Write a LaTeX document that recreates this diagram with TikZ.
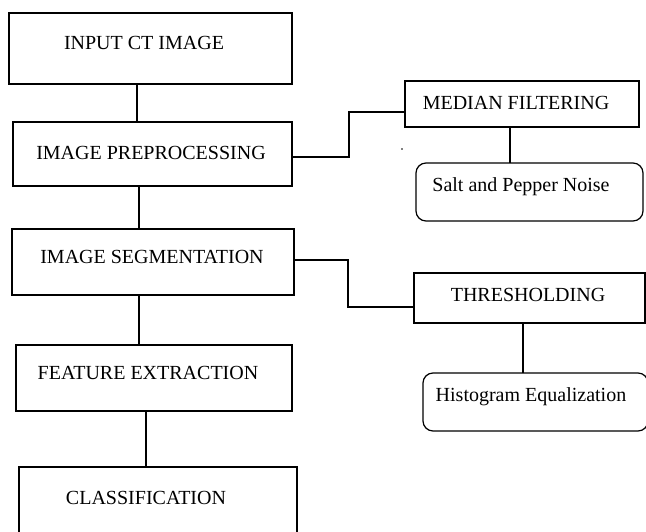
\documentclass[tikz,border=0pt]{standalone}
\usepackage{fontspec}
\setmainfont{Liberation Serif}
\begin{document}
\begin{tikzpicture}[x=1pt,y=-1pt,
  box/.style={draw=black, line width=1.2pt, inner sep=0pt, outer sep=0pt},
  rbox/.style={box, rounded corners=10pt},
  lbl/.style={inner sep=0pt, font=\fontsize{20}{24}\selectfont},
  conn/.style={draw=black, line width=1.2pt}]
\useasboundingbox (0,0) rectangle (646,532);
\clip (0,0) rectangle (646,532);
% left column boxes
\node[box, minimum width=283pt, minimum height=71pt] (B1) at (150.5,48.5) {};
\node[box, minimum width=279pt, minimum height=64pt] (B2) at (152.5,154) {};
\node[box, minimum width=282pt, minimum height=66pt] (B3) at (153,262) {};
\node[box, minimum width=276pt, minimum height=66pt] (B4) at (154,378) {};
\node[box, minimum width=278pt, minimum height=93pt] (B5) at (158,513.5) {};
% right boxes
\node[box, minimum width=234pt, minimum height=46pt] (MF) at (522,104) {};
\node[rbox, minimum width=227pt, minimum height=58pt] (SP) at (529.5,192) {};
\node[box, minimum width=231pt, minimum height=50pt] (TH) at (529.5,298) {};
\node[rbox, minimum width=225pt, minimum height=58pt] (HE) at (535.5,402) {};
% labels
\node[lbl] (t1) at (144,43) {INPUT CT IMAGE};
\node[lbl] (t2) at (151,153) {IMAGE PREPROCESSING};
\node[lbl] (t3) at (152,257) {IMAGE SEGMENTATION};
\node[lbl] (t4) at (148,373) {FEATURE EXTRACTION};
\node[lbl] (t5) at (146,498) {CLASSIFICATION};
\node[lbl] (t6) at (516,103) {MEDIAN FILTERING};
\node[lbl] (t7) at (521,187) {Salt and Pepper Noise};
\node[lbl] (t8) at (528,295) {THRESHOLDING};
\node[lbl] (t9) at (531,397) {Histogram Equalization};
% helper coordinates
\coordinate (c1) at (137,0);
\coordinate (c2) at (139,0);
\coordinate (c4) at (146,0);
\coordinate (y2) at (0,157);
\coordinate (k2) at (349,0);
\coordinate (ym) at (0,112);
\coordinate (y3) at (0,260);
\coordinate (k3) at (348,0);
\coordinate (yt) at (0,307);
\coordinate (cm) at (510,0);
\coordinate (ct) at (523,0);
% connectors
\draw[conn] (B1.south -| c1) -- (B2.north -| c1);
\draw[conn] (B2.south -| c2) -- (B3.north -| c2);
\draw[conn] (B3.south -| c2) -- (B4.north -| c2);
\draw[conn] (B4.south -| c4) -- (B5.north -| c4);
\draw[conn] (B2.east |- y2) -- (k2 |- y2) -- (k2 |- ym) -- (MF.west |- ym);
\draw[conn] (B3.east |- y3) -- (k3 |- y3) -- (k3 |- yt) -- (TH.west |- yt);
\draw[conn] (MF.south -| cm) -- (SP.north -| cm);
\draw[conn] (TH.south -| ct) -- (HE.north -| ct);
% stray dot
\fill[black] (402,149) circle (0.9pt);
\end{tikzpicture}
\end{document}
